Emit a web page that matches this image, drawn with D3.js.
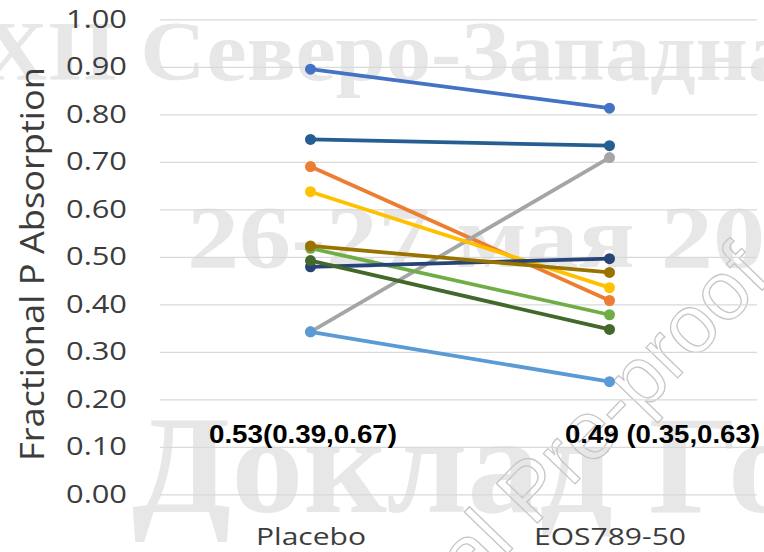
<!DOCTYPE html>
<html>
<head>
<meta charset="utf-8">
<script src="https://cdn.jsdelivr.net/npm/d3@7"></script>
<style>
  html, body { margin: 0; padding: 0; background: #fff; }
  svg { display: block; }
</style>
</head>
<body>
<div id="chart"></div>
<script>
// categories on the x axis
const categories = ['Placebo', 'EOS789-50'];

// one value per subject
const placebo = [0.895, 0.690, 0.342, 0.637, 0.342, 0.518, 0.479, 0.523, 0.747, 0.492];
const eos     = [0.813, 0.408, 0.709, 0.435, 0.237, 0.378, 0.496, 0.467, 0.734, 0.347];
const colors  = ['#4472C4', '#ED7D31', '#A5A5A5', '#FFC000', '#5B9BD5',
                 '#70AD47', '#264478', '#997300', '#255E91', '#43682B'];

const yTicks = [0, 0.1, 0.2, 0.3, 0.4, 0.5, 0.6, 0.7, 0.8, 0.9, 1.0];
const summaryLabels = ['0.53(0.39,0.67)', '0.49 (0.35,0.63)'];

const W = 764, H = 552;

const svg = d3.select('#chart')
  .append('svg')
  .attr('width', W)
  .attr('height', H);

// background watermark text (faint)
const wm = svg.append('g').attr('class', 'watermark')
  .style('font-family', '"Liberation Serif", "DejaVu Serif", serif')
  .style('font-weight', 'bold')
  .attr('fill', '#e7e7e7');

wm.append('text')
  .attr('x', -18).attr('y', 80)
  .style('font-size', '84px')
  .attr('textLength', 860).attr('lengthAdjust', 'spacingAndGlyphs')
  .text('XII Северо-Западная');

wm.append('text')
  .attr('x', 187).attr('y', 267)
  .style('font-size', '88px')
  .attr('textLength', 578).attr('lengthAdjust', 'spacingAndGlyphs')
  .text('26-27 мая 20');

wm.append('text')
  .attr('x', 132).attr('y', 512)
  .style('font-size', '140px')
  .attr('textLength', 668).attr('lengthAdjust', 'spacingAndGlyphs')
  .text('Доклад Го');

svg.append('text')
  .attr('transform', 'translate(773,279) rotate(-46)')
  .attr('text-anchor', 'end')
  .style('font-family', '"Liberation Sans", Arial, sans-serif')
  .style('font-size', '83px')
  .attr('fill', 'none')
  .attr('stroke', '#c6c6c6')
  .attr('stroke-width', 1.3)
  .text('Journal Pre-proof');

// scales
const x = d3.scalePoint()
  .domain(categories)
  .range([161, 759])
  .padding(0.5);

const y = d3.scaleLinear()
  .domain([0, 1])
  .range([494.3, 19.3]);

const gridLeft = 160, gridRight = 757;

// Y axis with gridlines
const yAxis = svg.append('g')
  .attr('transform', `translate(${gridLeft},0)`)
  .call(d3.axisLeft(y)
    .tickValues(yTicks)
    .tickFormat(d3.format('.2f'))
    .tickSize(-(gridRight - gridLeft))
    .tickPadding(33));

yAxis.select('.domain').remove();
yAxis.selectAll('line')
  .attr('stroke', '#d9d9d9')
  .attr('stroke-width', 1.3);
yAxis.selectAll('text')
  .attr('fill', '#3c3c3c')
  .style('font-family', '"Open Sans", sans-serif')
  .style('font-size', '25px')
  .attr('textLength', 61)
  .attr('lengthAdjust', 'spacingAndGlyphs');

// X axis labels
const xAxis = svg.append('g')
  .attr('transform', `translate(0,${y(0)})`)
  .call(d3.axisBottom(x).tickSize(0).tickPadding(34));

xAxis.select('.domain').remove();
xAxis.selectAll('text')
  .attr('fill', '#3c3c3c')
  .style('font-family', '"Open Sans", sans-serif')
  .style('font-size', '23.5px')
  .attr('textLength', (d, i) => [110, 152][i])
  .attr('lengthAdjust', 'spacingAndGlyphs');

// axis title
svg.append('text')
  .attr('transform', `translate(44,${264}) rotate(-90)`)
  .attr('text-anchor', 'middle')
  .attr('fill', '#3c3c3c')
  .style('font-family', '"Open Sans", sans-serif')
  .style('font-size', '33px')
  .attr('textLength', 394)
  .attr('lengthAdjust', 'spacingAndGlyphs')
  .text('Fractional P Absorption');

// subject lines
const subjects = placebo.map((p, i) => ({ values: [p, eos[i]], color: colors[i] }));

const line = d3.line()
  .x((d, i) => x(categories[i]))
  .y(d => y(d));

const series = svg.append('g').selectAll('.subject')
  .data(subjects)
  .enter()
  .append('g')
  .attr('class', 'subject');

series.append('path')
  .attr('d', d => line(d.values))
  .attr('fill', 'none')
  .attr('stroke', d => d.color)
  .attr('stroke-width', 3.8);

series.selectAll('circle')
  .data(d => d.values.map(v => ({ v, color: d.color })))
  .enter()
  .append('circle')
  .attr('cx', (d, i) => x(categories[i]))
  .attr('cy', d => y(d.v))
  .attr('r', 5.5)
  .attr('fill', d => d.color);

// summary labels (median and range)
const labelPos = [[209, 188], [565, 195]];
svg.append('g').selectAll('.summary')
  .data(summaryLabels)
  .enter()
  .append('text')
  .attr('x', (d, i) => labelPos[i][0])
  .attr('y', 443)
  .attr('textLength', (d, i) => labelPos[i][1])
  .attr('lengthAdjust', 'spacingAndGlyphs')
  .style('font-family', '"Liberation Sans", Arial, sans-serif')
  .style('font-weight', 'bold')
  .style('font-size', '25px')
  .attr('fill', '#000')
  .text(d => d);
</script>
</body>
</html>
